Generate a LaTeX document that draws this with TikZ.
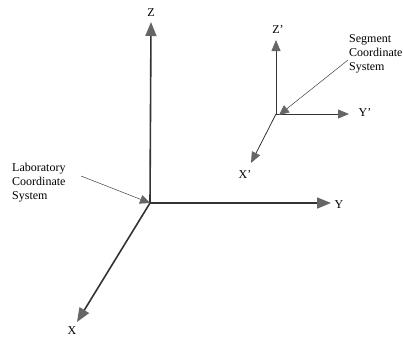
\documentclass[tikz,border=0pt]{standalone}
\usepackage{fontspec}
\setmainfont{Liberation Serif}
\usetikzlibrary{arrows.meta, positioning}

\begin{document}
\begin{tikzpicture}[
  x=1pt, y=-1pt,
  labaxis/.style={draw=black!80, line width=1.6pt, -{Triangle[length=14pt, width=11pt, color=black!60, fill=black!60]}},
  segaxis/.style={draw=black!80, line width=0.8pt, -{Triangle[length=11pt, width=9pt, color=black!60, fill=black!60]}},
  pointer/.style={draw=black!75, line width=0.5pt, -{Triangle[length=10pt, width=9pt, color=black!60, fill=black!60]}},
  axlabel/.style={font=\fontsize{12}{14}\selectfont, inner sep=1pt},
  note/.style={align=left, inner sep=0pt, font=\fontsize{12}{14}\selectfont}
]
\useasboundingbox (0,0) rectangle (403,338);

% laboratory frame
\coordinate (lab) at (150,203);
\coordinate (labz) at (151,22);
\coordinate (laby) at (331,203);
\coordinate (labx) at (77,322);
\draw[labaxis] (lab) -- (labz);
\draw[labaxis] (lab) -- (laby);
\draw[labaxis] (lab) -- (labx);
\node[axlabel] (zl) at (151,13) {Z};
\node[axlabel] (yl) at (339,205) {Y};
\node[axlabel] (xl) at (72,331) {X};

% segment frame
\coordinate (seg) at (276,114);
\coordinate (segz) at (276,40);
\coordinate (segy) at (349,114);
\coordinate (segx) at (251,163);
\draw[segaxis] (seg) -- (segz);
\draw[segaxis] (seg) -- (segy);
\draw[segaxis] (seg) -- (segx);
\node[axlabel] (zsl) at (278,30) {Z'};
\node[axlabel] (ysl) at (365,113) {Y'};
\node[axlabel] (xsl) at (245,175) {X'};

% labels with pointers
\node[note, anchor=west] (labnote) at (12,183) {Laboratory\\Coordinate\\System};
\node[note, anchor=west] (segnote) at (349,54) {Segment\\Coordinate\\System};
\coordinate (labtail) at (81,176);
\coordinate (segtail) at (348,60);
\draw[pointer] (labtail) -- (lab);
\draw[pointer] (segtail) -- ([xshift=3pt,yshift=-1pt]seg);

\end{tikzpicture}
\end{document}
